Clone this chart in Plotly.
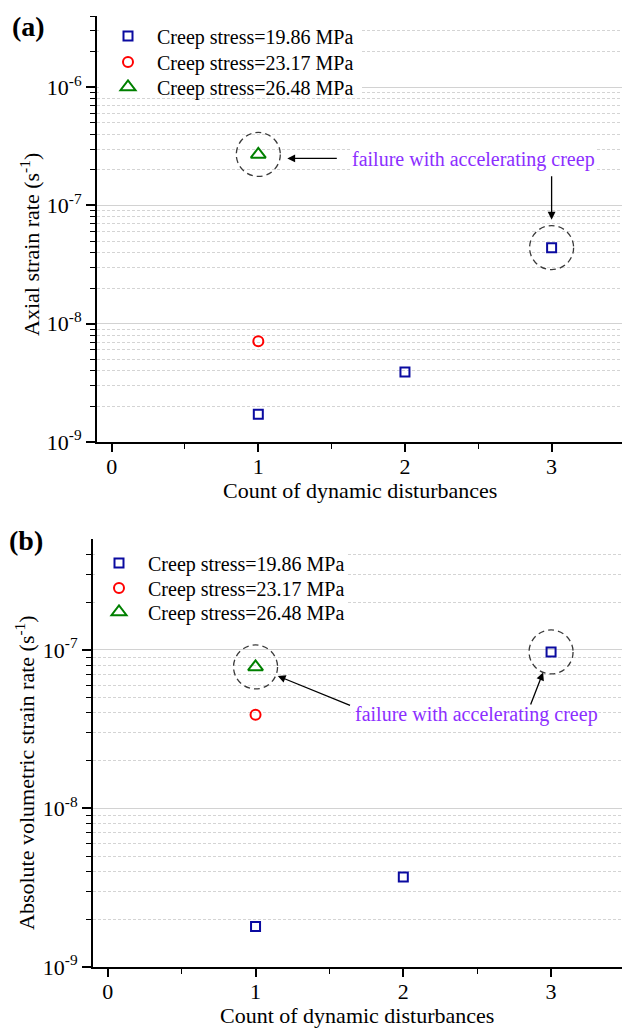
import numpy as np
import plotly.graph_objects as go

W, H = 622, 1030
FONT = "Liberation Serif, Times New Roman, serif"

# ---- data -------------------------------------------------------------
series_names = ["Creep stress=19.86 MPa", "Creep stress=23.17 MPa", "Creep stress=26.48 MPa"]

# (a) axial strain rate, s^-1
a_count_1986 = [1, 2, 3]
a_rate_1986 = [1.72e-9, 3.9e-9, 4.4e-8]
a_count_2317 = [1]
a_rate_2317 = [7.1e-9]
a_count_2648 = [1]
a_rate_2648 = [2.7e-7]

# (b) absolute volumetric strain rate, s^-1
b_count_1986 = [1, 2, 3]
b_rate_1986 = [1.8e-9, 3.7e-9, 9.7e-8]
b_count_2317 = [1]
b_rate_2317 = [3.9e-8]
b_count_2648 = [1]
b_rate_2648 = [7.8e-8]

x_ticks = [0, 1, 2, 3]
note_text = "failure with accelerating creep"

# ---- helpers ----------------------------------------------------------
def px(v):
    return v / W


def py(v):
    return 1 - v / H


def sup(e):
    return "10<sup>%d</sup>" % e


styles = [
    dict(symbol="square-open", size=9, color="#0A0AA0", line=dict(width=2, color="#0A0AA0")),
    dict(symbol="circle-open", size=10, color="#FF0000", line=dict(width=2, color="#FF0000")),
    dict(symbol="triangle-up-open", size=13, color="#008000", line=dict(width=2, color="#008000")),
]

X_RANGE = [-0.1, 3.48]
YA_RANGE = [-9, np.log10(4e-6)]
YB_RANGE = [-9, np.log10(5e-7)]
ya_dom = [py(442), py(16)]
yb_dom = [py(967), py(539)]
xa_dom = [px(97), 1]
xb_dom = [px(93), 1]

fig = go.Figure()

panel_a = [(a_count_1986, a_rate_1986), (a_count_2317, a_rate_2317), (a_count_2648, a_rate_2648)]
panel_b = [(b_count_1986, b_rate_1986), (b_count_2317, b_rate_2317), (b_count_2648, b_rate_2648)]

# one single-row legend box per series so the row pitch can be set freely
legends_a = ["legend", "legend3", "legend4"]
legends_b = ["legend2", "legend5", "legend6"]

for (xs, ys), name, st, lg in zip(panel_a, series_names, styles, legends_a):
    fig.add_trace(go.Scatter(x=xs, y=ys, mode="markers", name=name, marker=st,
                             xaxis="x", yaxis="y", legend=lg, showlegend=True))
for (xs, ys), name, st, lg in zip(panel_b, series_names, styles, legends_b):
    fig.add_trace(go.Scatter(x=xs, y=ys, mode="markers", name=name, marker=st,
                             xaxis="x2", yaxis="y2", legend=lg, showlegend=True))


def log_axis(yrange, domain, anchor):
    lo_exp = int(yrange[0])
    top_val = 10 ** yrange[1]
    majors = [10.0 ** e for e in range(lo_exp, 0) if 10.0 ** e <= top_val * 1.0001]
    minors = [k * 10.0 ** e for e in range(lo_exp, 0) for k in range(2, 10) if k * 10.0 ** e < top_val]
    return dict(
        type="log", range=yrange, domain=domain, anchor=anchor,
        tickmode="array", tickvals=majors, ticktext=[sup(int(round(np.log10(v)))) for v in majors],
        ticks="outside", ticklen=9, tickwidth=1.6, tickcolor="black",
        showline=True, linewidth=2, linecolor="black",
        showgrid=True, gridcolor="#d2d2d2", gridwidth=1.4,
        zeroline=False, tickfont=dict(size=22, color="black", family=FONT),
        minor=dict(tickmode="array", tickvals=minors, ticks="outside", ticklen=5,
                   tickwidth=1.4, tickcolor="black", showgrid=True,
                   gridcolor="#d4d4d4", gridwidth=1, griddash="3px,2px"),
    )


def lin_axis(domain, anchor):
    return dict(
        range=X_RANGE, domain=domain, anchor=anchor,
        tickmode="array", tickvals=x_ticks, ticks="outside", ticklen=8, tickwidth=1.6,
        tickcolor="black", showline=True, linewidth=2, linecolor="black",
        showgrid=False, zeroline=False, tickfont=dict(size=22, color="black", family=FONT),
        ticklabelstandoff=-4,
        minor=dict(tickmode="array", tickvals=[0.5, 1.5, 2.5, 3.5], ticks="outside",
                   ticklen=5, tickwidth=1.4, tickcolor="black"),
    )


def top_axis(over, anchor):
    return dict(overlaying=over, anchor=anchor, side="top", range=X_RANGE,
                tickmode="array", tickvals=[0, 0.5, 1, 1.5, 2, 2.5, 3, 3.5], ticks="inside",
                ticklen=7, tickwidth=1.4, tickcolor="black", showticklabels=False,
                showline=True, linewidth=2, linecolor="black", showgrid=False, zeroline=False)


def right_axis(over, anchor, yrange, majors):
    return dict(overlaying=over, anchor=anchor, side="right", type="log",
                range=yrange, tickmode="array", tickvals=majors,
                ticks="inside", ticklen=5, tickwidth=1.6, tickcolor="black",
                showticklabels=False, showline=False, showgrid=False)


fig.update_layout(
    xaxis=lin_axis(xa_dom, "y"),
    yaxis=log_axis(YA_RANGE, ya_dom, "x"),
    xaxis2=lin_axis(xb_dom, "y2"),
    yaxis2=log_axis(YB_RANGE, yb_dom, "x2"),
    xaxis3=top_axis("x", "y"),
    xaxis4=top_axis("x2", "y2"),
    yaxis3=right_axis("y", "x", YA_RANGE, [1e-9, 1e-8, 1e-7, 1e-6]),
    yaxis4=right_axis("y2", "x2", YB_RANGE, [1e-9, 1e-8, 1e-7]),
)


# dashed rings (radius R_PX pixels) around the failure points
R_PX = 22


def ring(xref, yref, xv, yv, xdom, ydom, yrange):
    x_px_per_unit = (xdom[1] - xdom[0]) * W / (X_RANGE[1] - X_RANGE[0])
    y_px_per_dec = (ydom[1] - ydom[0]) * H / (yrange[1] - yrange[0])
    rx = R_PX / x_px_per_unit
    k = 10 ** (R_PX / y_px_per_dec)
    return dict(type="circle", xref=xref, yref=yref, x0=xv - rx, x1=xv + rx,
                y0=yv / k, y1=yv * k,
                line=dict(color="#3a3a3a", width=1.3, dash="6px,4px"), layer="above")


fig.add_shape(ring("x", "y", a_count_2648[0], a_rate_2648[0], xa_dom, ya_dom, YA_RANGE))
fig.add_shape(ring("x", "y", a_count_1986[2], a_rate_1986[2], xa_dom, ya_dom, YA_RANGE))
fig.add_shape(ring("x2", "y2", b_count_2648[0], b_rate_2648[0], xb_dom, yb_dom, YB_RANGE))
fig.add_shape(ring("x2", "y2", b_count_1986[2], b_rate_1986[2], xb_dom, yb_dom, YB_RANGE))

# white panels behind the legends hide the grid there
fig.add_shape(type="rect", xref="paper", yref="paper", x0=px(99), x1=px(362),
              y0=py(97), y1=py(19), fillcolor="white", line=dict(width=0), layer="above")
fig.add_shape(type="rect", xref="paper", yref="paper", x0=px(95), x1=px(348),
              y0=py(626), y1=py(543), fillcolor="white", line=dict(width=0), layer="above")

txt_font = dict(size=20, color="#8C2EFF", family=FONT)
arrow_kw = dict(showarrow=True, arrowhead=2, arrowsize=1.2, arrowwidth=1.3,
                arrowcolor="black", axref="pixel", ayref="pixel", text="")

annotations = [
    # (a)
    dict(x=1.63, y=np.log10(a_rate_2648[0]), xref="x", yref="y", text=note_text,
         showarrow=False, xanchor="left", yanchor="middle", font=txt_font,
         bgcolor="white", borderpad=0, yshift=-5),
    dict(x=a_count_2648[0], y=np.log10(a_rate_2648[0]), xref="x", yref="y",
         ax=80, ay=0, standoff=29, yshift=-4, **arrow_kw),
    dict(x=a_count_1986[2], y=np.log10(a_rate_1986[2]), xref="x", yref="y",
         ax=0, ay=-73, standoff=28, **arrow_kw),
    # (b)
    dict(x=1.667, y=np.log10(b_rate_2317[0]), xref="x2", yref="y2", text=note_text,
         showarrow=False, xanchor="left", yanchor="middle", font=txt_font,
         bgcolor="white", borderpad=0),
    dict(x=b_count_2648[0], y=np.log10(b_rate_2648[0]), xref="x2", yref="y2",
         ax=96, ay=39, standoff=24, **arrow_kw),
    dict(x=b_count_1986[2], y=np.log10(b_rate_1986[2]), xref="x2", yref="y2",
         ax=-21, ay=54, standoff=22, **arrow_kw),
    # panel letters
    dict(x=px(28), y=py(27), xref="paper", yref="paper", text="<b>(a)</b>", showarrow=False,
         font=dict(size=28, color="black", family=FONT), xanchor="center", yanchor="middle"),
    dict(x=px(26), y=py(540), xref="paper", yref="paper", text="<b>(b)</b>", showarrow=False,
         font=dict(size=28, color="black", family=FONT), xanchor="center", yanchor="middle"),
    # axis titles
    dict(x=px(30), y=py(245), xref="paper", yref="paper",
         text="Axial strain rate (s<sup>-1</sup>)", textangle=-90, showarrow=False,
         font=dict(size=22, color="black", family=FONT), xanchor="center", yanchor="middle"),
    dict(x=px(25), y=py(773), xref="paper", yref="paper",
         text="Absolute volumetric strain rate (s<sup>-1</sup>)", textangle=-90, showarrow=False,
         font=dict(size=22, color="black", family=FONT), xanchor="center", yanchor="middle"),
    dict(x=px(360), y=py(490), xref="paper", yref="paper", text="Count of dynamic disturbances",
         showarrow=False, font=dict(size=22, color="black", family=FONT),
         xanchor="center", yanchor="middle"),
    dict(x=px(357), y=py(1015), xref="paper", yref="paper", text="Count of dynamic disturbances",
         showarrow=False, font=dict(size=22, color="black", family=FONT),
         xanchor="center", yanchor="middle"),
]

legend_common = dict(xanchor="left", yanchor="middle", itemwidth=48,
                     bgcolor="rgba(0,0,0,0)", borderwidth=0,
                     font=dict(size=20, color="black", family=FONT))

# row centres of the legend entries (px from top)
rows_a = [36, 62, 87]
rows_b = [563, 588, 612]

legend_layout = {}
for lg, r in zip(legends_a, rows_a):
    legend_layout[lg] = dict(x=px(99), y=py(r), **legend_common)
for lg, r in zip(legends_b, rows_b):
    legend_layout[lg] = dict(x=px(90), y=py(r), **legend_common)

fig.update_layout(
    width=W, height=H, margin=dict(l=0, r=0, t=0, b=0, autoexpand=False),
    paper_bgcolor="white", plot_bgcolor="white", showlegend=True,
    font=dict(family=FONT, color="black"),
    annotations=annotations,
    **legend_layout,
)

fig.write_html("out.html")
